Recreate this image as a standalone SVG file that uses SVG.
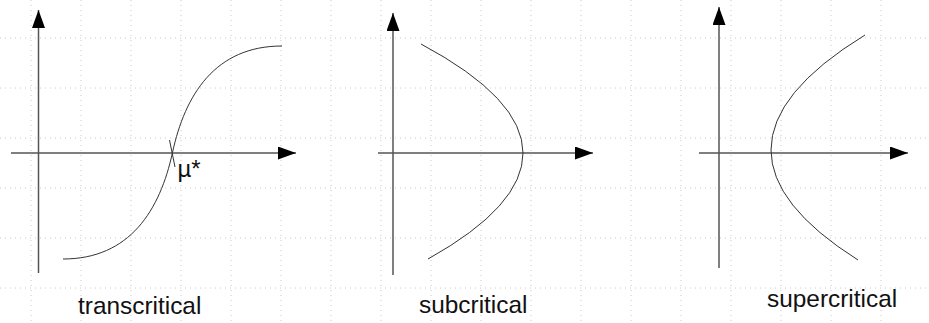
<svg xmlns="http://www.w3.org/2000/svg" width="929" height="323" viewBox="0 0 929 323">
<style>
.grid line{stroke:#c8c8c8;stroke-width:1;stroke-dasharray:1,4}
.axis{stroke:#555;stroke-width:1.5;fill:none}
.curve{stroke:#333;stroke-width:1;fill:none}
text{font-family:"Liberation Sans",Arial,sans-serif;fill:#111}
</style>
<defs>
<marker id="ah" markerUnits="userSpaceOnUse" markerWidth="18" markerHeight="13" refX="18" refY="6.5" orient="auto" viewBox="0 0 18 13">
<path d="M0,0 L18,6.5 L0,13 z" fill="#000"/>
</marker>
</defs>
<rect width="929" height="323" fill="#fff"/>
<g class="grid">
<line x1="31" y1="0" x2="31" y2="323"/><line x1="81" y1="0" x2="81" y2="323"/><line x1="131" y1="0" x2="131" y2="323"/><line x1="181" y1="0" x2="181" y2="323"/><line x1="231" y1="0" x2="231" y2="323"/><line x1="281" y1="0" x2="281" y2="323"/><line x1="331" y1="0" x2="331" y2="323"/><line x1="381" y1="0" x2="381" y2="323"/><line x1="431" y1="0" x2="431" y2="323"/><line x1="481" y1="0" x2="481" y2="323"/><line x1="531" y1="0" x2="531" y2="323"/><line x1="581" y1="0" x2="581" y2="323"/><line x1="631" y1="0" x2="631" y2="323"/><line x1="681" y1="0" x2="681" y2="323"/><line x1="731" y1="0" x2="731" y2="323"/><line x1="781" y1="0" x2="781" y2="323"/><line x1="831" y1="0" x2="831" y2="323"/><line x1="881" y1="0" x2="881" y2="323"/>
<line x1="0" y1="38" x2="929" y2="38"/><line x1="0" y1="88" x2="929" y2="88"/><line x1="0" y1="138" x2="929" y2="138"/><line x1="0" y1="188" x2="929" y2="188"/><line x1="0" y1="238" x2="929" y2="238"/><line x1="0" y1="288" x2="929" y2="288"/>
</g>
<g id="transcritical">
<line class="axis" x1="38.5" y1="273" x2="38.5" y2="10" marker-end="url(#ah)"/>
<line class="axis" x1="11" y1="153" x2="296" y2="153" marker-end="url(#ah)"/>
<path class="curve" d="M63,259 C130,259 160,210 172.5,152.5 S215,46 282,46"/>
<line class="curve" x1="169.5" y1="140" x2="175" y2="167"/>
<text x="177.5" y="177" font-size="24">µ*</text>
<text x="78" y="314" font-size="24.4">transcritical</text>
</g>
<g id="subcritical">
<line class="axis" x1="393" y1="275" x2="393" y2="13" marker-end="url(#ah)"/>
<line class="axis" x1="378" y1="153" x2="593" y2="153" marker-end="url(#ah)"/>
<path class="curve" d="M421,44 Q523,98.5 523,153 Q523,206 428,259"/>
<text x="419" y="313" font-size="24.4">subcritical</text>
</g>
<g id="supercritical">
<line class="axis" x1="719" y1="268" x2="719" y2="7" marker-end="url(#ah)"/>
<line class="axis" x1="699" y1="153" x2="908" y2="153" marker-end="url(#ah)"/>
<path class="curve" d="M865,35 Q771,92.5 771,150 Q771,205 858,260"/>
<text x="767" y="307" font-size="24.4">supercritical</text>
</g>
</svg>
